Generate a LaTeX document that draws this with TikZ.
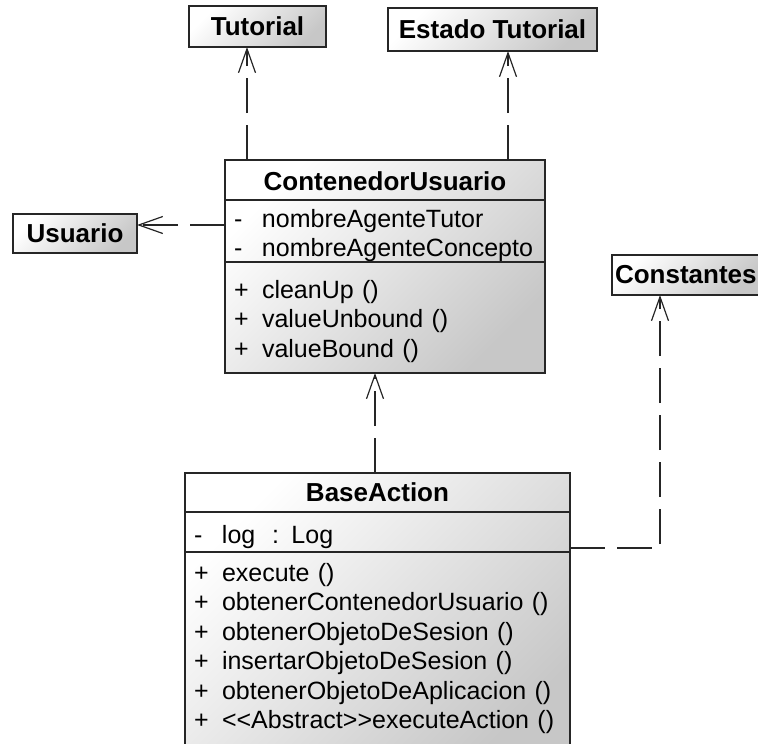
\documentclass[tikz,border=0pt]{standalone}
\usepackage{fontspec}
\setmainfont{Liberation Sans}
\usetikzlibrary{arrows.meta, positioning, backgrounds}

\tikzset{
    klasse/.style={draw=black!85, line width=1.6pt, outer sep=0pt, inner xsep=9pt, inner ysep=0pt, font=\fontsize{26}{30}\selectfont\bfseries},
    fach/.style={draw=black!85, line width=1.6pt, outer sep=0pt, inner xsep=9pt, inner ysep=0pt, align=left, font=\fontsize{25}{29.5}\selectfont},
    abh/.style={draw=black!85, line width=1.8pt, dash pattern=on 35pt off 12pt, -{Straight Barb[length=24pt, width=17pt, line width=1.2pt]}},
    verlauf/.style={top color=white, bottom color=black!22, shading angle=45}
}
\newcommand{\mitglied}[2]{\makebox[28pt][l]{#1}#2}
% Stuetze, schiebt die Zeilen im Fach etwas nach unten
\newcommand{\tiefer}[1]{\rule{0pt}{#1}}

\begin{document}
\begin{tikzpicture}[x=1pt, y=-1pt]

    \useasboundingbox (0,0) rectangle (758,744);

    % --- Einfache Klassen ---
    \node[klasse, verlauf, minimum width=137pt, minimum height=41pt] (tutorial) at (257.5,26.5) {Tutorial};
    \node[klasse, verlauf, minimum width=209pt, minimum height=43pt] (estado) at (492.5,29.5) {Estado Tutorial};
    \node[klasse, verlauf, minimum width=124pt, minimum height=39pt] (usuario) at (75,233.5) {Usuario};
    \node[klasse, verlauf, inner xsep=3pt, minimum height=40pt, anchor=west] (constantes) at (612,275) {Constantes};

    % --- ContenedorUsuario ---
    \node[klasse, minimum width=320pt, minimum height=40pt] (contenedor) at (385,180) {\tiefer{22pt}ContenedorUsuario};
    \node[fach, text width=302pt, minimum height=62pt, below=0pt of contenedor] (contenedor-attr)
        {\tiefer{27pt}\mitglied{-}{nombreAgenteTutor}\\ \mitglied{-}{nombreAgenteConcepto}};
    \node[fach, text width=302pt, minimum height=111pt, below=0pt of contenedor-attr] (contenedor-ops)
        {\tiefer{26pt}\mitglied{+}{cleanUp ()}\\ \mitglied{+}{valueUnbound ()}\\ \mitglied{+}{valueBound ()}};

    % --- BaseAction (unten abgeschnitten) ---
    \node[klasse, minimum width=385pt, minimum height=39pt] (baseaction) at (377.5,492.5) {BaseAction};
    \node[fach, text width=367pt, minimum height=40pt, below=0pt of baseaction] (baseaction-attr)
        {\tiefer{28pt}\mitglied{-}{log~~: Log}};
    \node[fach, text width=367pt, minimum height=214pt, below=0pt of baseaction-attr] (baseaction-ops)
        {\tiefer{21pt}\mitglied{+}{execute ()}\\ \mitglied{+}{obtenerContenedorUsuario ()}\\
         \mitglied{+}{obtenerObjetoDeSesion ()}\\ \mitglied{+}{insertarObjetoDeSesion ()}\\
         \mitglied{+}{obtenerObjetoDeAplicacion ()}\\ \mitglied{+}{<{}<Abstract>{}>executeAction ()}\\ ~};

    % Farbverlauf hinter den Klassen
    \begin{scope}[on background layer]
        \path[verlauf] (contenedor.north west) rectangle (contenedor-ops.south east);
        \path[verlauf] (baseaction.north west) rectangle (baseaction-ops.south east);
    \end{scope}

    % --- Abhaengigkeiten ---
    \draw[abh] ([xshift=-10.5pt]tutorial.south |- contenedor.north) -- ([xshift=-10.5pt]tutorial.south);
    \draw[abh] ([xshift=15.5pt]estado.south |- contenedor.north) -- ([xshift=15.5pt]estado.south);
    \draw[abh] ([yshift=8.5pt]usuario.east -| contenedor-attr.west) -- ([yshift=8.5pt]usuario.east);
    \draw[abh] ([xshift=-2.5pt]baseaction.north) -- ([xshift=-2.5pt]baseaction.north |- contenedor-ops.south);
    \draw[abh] ([yshift=-16pt]baseaction-attr.east) -| ([xshift=48pt]constantes.south west);

\end{tikzpicture}
\end{document}
